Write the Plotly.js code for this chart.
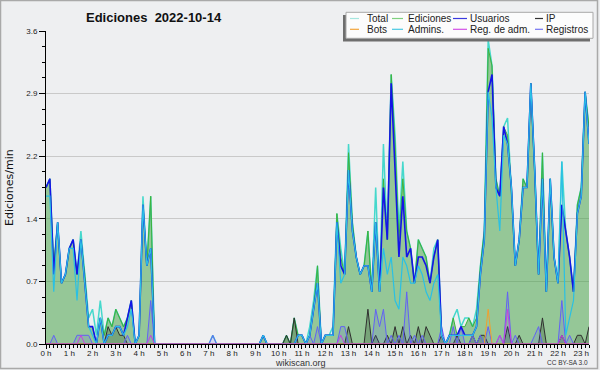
<!DOCTYPE html>
<html>
<head>
<meta charset="utf-8">
<script src="https://cdn.plot.ly/plotly-3.0.1.min.js"></script>
<style>
  html, body { margin: 0; padding: 0; background: #eeeff1; }
  #chart { width: 600px; height: 370px; }
</style>
</head>
<body>
<div id="chart"></div>
<script>
// 10-minute bins, 00:00 -> 23:20 (edits per minute)
const total = [
  1.8,1.9,0.9,1.4,0.7,0.8,1.1,1.2,0.8,1.3,
  0.8,0.3,0.4,0.1,0.5,0.1,0.3,0.2,0.4,0.3,
  0.2,0.3,0.5,0,0.1,1.7,0.9,1.7,0,0,
  0,0,0,0,0,0,0,0,0,0,
  0,0,0,0.1,0,0,0,0,0,0,
  0,0,0,0,0,0,0.1,0,0,0,
  0,0,0.1,0,0.3,0.1,0.1,0,0.2,0.5,
  0.9,0,0.1,0.1,0.2,1.5,1.1,0.8,2.3,1.4,
  1.0,0.8,0.9,1.3,0.6,1.8,0.6,2.3,1.2,3.1,
  2.4,1.3,2.1,1.3,1.1,0.7,1.2,1.1,1.0,0.7,
  1.1,1.2,0.1,0,0.1,0.3,0.4,0.2,0.3,0.3,
  0.2,0.4,0.9,1.3,3.5,3.2,1.9,1.7,2.5,2.6,
  1.8,0.9,1.2,1.9,1.8,3.0,2.0,0.8,2.2,0.6,
  1.9,1.0,0.7,2.1,1.3,1.0,0.6,1.6,1.8,2.9,
  2.5
];
const ediciones = [
  1.8,1.9,0.9,1.4,0.7,0.8,1.1,1.2,0.8,1.2,
  0.8,0.2,0.2,0,0.3,0.1,0.3,0.2,0.4,0.3,
  0.2,0.3,0.5,0,0.1,1.6,0.9,1.7,0,0,
  0,0,0,0,0,0,0,0,0,0,
  0,0,0,0,0,0,0,0,0,0,
  0,0,0,0,0,0,0.1,0,0,0,
  0,0,0.1,0,0.3,0.1,0.1,0,0.1,0.4,
  0.9,0,0.1,0.1,0.1,1.5,1.0,0.8,2.2,1.4,
  1.0,0.8,0.9,1.3,0.6,1.4,0.6,1.9,1.2,3.1,
  2.3,1.2,1.9,1.3,1.1,0.7,1.2,1.1,1.0,0.7,
  1.0,1.2,0.1,0,0.1,0.3,0.1,0.2,0.2,0.3,
  0.2,0.3,0.9,1.3,3.4,3.2,1.9,1.7,2.5,2.4,
  1.8,0.9,1.2,1.9,1.8,3.0,2.0,0.8,2.2,0.6,
  1.9,1.0,0.7,1.6,1.3,1.0,0.6,1.6,1.8,2.9,
  2.5
];
const usuarios = [
  1.8,1.9,0.8,1.4,0.7,0.8,1.1,1.2,0.8,1.2,
  0.7,0.2,0.2,0,0.3,0,0.1,0.1,0.2,0.2,
  0.1,0.3,0.5,0,0.1,1.6,0.9,1.1,0,0,
  0,0,0,0,0,0,0,0,0,0,
  0,0,0,0,0,0,0,0,0,0,
  0,0,0,0,0,0,0.1,0,0,0,
  0,0,0,0,0,0.1,0.1,0,0.1,0.4,
  0.7,0,0.1,0.1,0.1,1.4,0.9,0.8,2.0,1.3,
  1.0,0.8,0.9,0.9,0.6,1.4,0.6,1.8,1.2,3.0,
  2.0,1.0,1.7,1.0,1.1,0.7,1.0,1.0,0.9,0.7,
  1.0,1.2,0.1,0,0.1,0.1,0.1,0.2,0.1,0.1,
  0.1,0.2,0.8,1.2,2.9,3.1,1.8,1.7,2.5,2.3,
  1.8,0.9,1.2,1.8,1.8,3.0,2.0,0.8,1.9,0.6,
  1.9,1.0,0.7,1.6,1.3,1.0,0.6,1.5,1.7,2.9,
  2.3
];
const admins = [
  1.7,1.7,0.6,1.4,0.7,0.8,1.1,1.1,0.5,1.2,
  0.7,0.2,0.1,0,0.3,0,0.1,0.1,0.2,0.2,
  0.1,0.2,0.4,0,0.1,1.6,0.9,1.1,0,0,
  0,0,0,0,0,0,0,0,0,0,
  0,0,0,0,0,0,0,0,0,0,
  0,0,0,0,0,0,0.1,0,0,0,
  0,0,0,0,0,0.1,0.1,0,0.1,0.4,
  0.7,0,0.1,0.1,0.1,1.4,0.7,0.8,2.0,1.3,
  1.0,0.8,0.9,0.9,0.6,1.4,0.6,1.1,0.8,1.0,
  0.5,0.4,1.0,0.9,0.7,0.7,0.9,0.8,0.6,0.5,
  0.7,0.8,0.1,0,0.1,0.1,0.1,0.1,0.1,0.1,
  0.1,0.2,0.8,1.2,2.9,2.6,1.8,1.3,2.4,2.3,
  1.8,0.9,1.2,1.8,1.8,3.0,2.0,0.8,1.9,0.6,
  1.9,1.0,0.7,2.1,0.1,0.3,0.5,1.5,1.7,2.9,
  2.3
];
const ip = [
  0,0,0,0,0,0,0,0,0,0,
  0,0,0,0,0,0,0.2,0.1,0.2,0.1,
  0.1,0,0,0,0,0,0,0,0,0,
  0,0,0,0,0,0,0,0,0,0,
  0,0,0,0,0,0,0,0,0,0,
  0,0,0,0,0,0,0,0,0,0,
  0,0,0.1,0,0.3,0,0,0,0,0,
  0,0,0,0,0,0,0,0,0.2,0,
  0,0,0,0.4,0,0.1,0,0,0.1,0,
  0.2,0,0.2,0,0.1,0,0.2,0,0.2,0.1,
  0,0,0.1,0,0,0,0.1,0,0,0,
  0.1,0,0.1,0.1,0,0,0,0,0,0.2,
  0,0,0.1,0,0,0,0,0,0.3,0,
  0,0,0,0.1,0,0,0,0.1,0.1,0,
  0.2
];
const bots = [
  0,0,0,0,0,0,0,0,0,0,
  0,0,0,0,0,0,0,0,0,0,
  0,0,0,0,0,0,0,0,0,0,
  0,0,0,0,0,0,0,0,0,0,
  0,0,0,0,0,0,0,0,0,0,
  0,0,0,0,0,0,0,0,0,0,
  0,0,0,0,0,0,0,0,0,0,
  0,0,0,0,0,0,0,0,0,0,
  0,0,0,0,0,0,0,0,0,0,
  0,0,0,0,0,0,0,0,0,0,
  0,0,0,0,0,0,0,0,0,0,
  0,0,0,0,0.4,0,0,0,0,0,
  0,0,0,0,0,0,0,0,0,0,
  0,0,0,0,0,0,0,0,0,0,
  0
];
const regAdm = [
  0,0,0,0,0,0,0,0,0,0.1,
  0,0,0,0,0,0,0,0,0,0,
  0,0,0,0,0,0,0,0.1,0,0,
  0,0,0,0,0,0,0,0,0,0,
  0,0,0,0,0,0,0,0,0,0,
  0,0,0,0,0,0,0,0,0,0,
  0,0,0,0,0,0,0,0,0,0,
  0,0,0,0,0,0,0.1,0,0,0,
  0,0,0,0,0,0,0,0,0,0,
  0,0,0,0,0,0,0,0,0,0,
  0,0,0,0,0,0,0,0,0,0,
  0,0,0,0,0,0,0,0.1,0,0.4,
  0,0,0,0,0,0,0,0,0,0,
  0,0,0,0.1,0,0,0,0,0,0,
  0
];
const registros = [
  0,0,0.1,0,0,0,0,0,0.1,0.1,
  0.1,0.1,0,0,0,0,0,0,0,0,
  0,0.1,0,0,0,0,0,0.5,0,0,
  0,0,0,0,0,0,0,0,0,0,
  0,0,0,0.1,0,0,0,0,0,0,
  0,0,0,0,0,0,0,0,0,0,
  0,0,0,0,0,0,0,0,0.1,0,
  0.2,0,0,0,0,0,0.2,0.2,0,0,
  0,0,0,0,0,0.4,0.2,0.4,0,0.1,
  0,0.1,0,0.6,0,0.1,0,0.1,0,0,
  0,0,0.2,0,0,0.2,0,0.2,0,0,
  0.1,0,0.1,0,0.2,0,0,0.1,0,0.6,
  0,0.1,0,0,0,0,0.1,0.2,0,0,
  0,0,0,0.5,0,0.1,0,0,0,0,
  0
];
const yTickVals = [0, 0.72, 1.44, 2.16, 2.88, 3.6];
const yTickText = ['0.0', '0.7', '1.4', '2.2', '2.9', '3.6'];

const x = total.map((_, i) => i / 6); // hours

const C = {
  total: '#45d8cc', ed: '#3cb43c', us: '#1414e8', ip: '#303030',
  bots: '#f0a030', ad: '#2ac0e4', regAdm: '#c840e0', reg: '#6262f4'
};
const LG = {
  total: '#a6e6df', ed: '#7fd07f', us: '#3a3ae0', ip: '#333333',
  bots: '#f2a43a', ad: '#48c8e2', regAdm: '#d24ee6', reg: '#7272f2'
};

function ln(y, color, width, extra) {
  return Object.assign({ x: x, y: y, type: 'scatter', mode: 'lines',
    line: { color: color, width: width }, hoverinfo: 'skip', showlegend: false }, extra || {});
}

const traces = [
  ln(total, C.total, 1.5),
  ln(ediciones, C.ed, 1, { fill: 'tozeroy', fillcolor: 'rgba(60,160,62,0.5)' }),
  ln(ip, C.ip, 1, { fill: 'tozeroy', fillcolor: 'rgba(20,40,20,0.22)' }),
  ln(registros, C.reg, 1, { fill: 'tozeroy', fillcolor: 'rgba(80,80,255,0.14)' }),
  ln(usuarios, C.us, 1.6),
  ln(admins, C.ad, 1.2),
  ln(bots, C.bots, 1),
  ln(regAdm, C.regAdm, 1)
];

// plot area in page pixels
const L = 46, T = 31, W = 543, H = 313;
const px = v => (v - L) / W;
const py = v => (T + H - v) / H;

const shapes = [
  { type: 'rect', xref: 'paper', yref: 'paper', x0: px(0.5), x1: px(597.5), y0: py(0.5), y1: py(368.5),
    line: { color: '#a9a9a9', width: 1.5 }, layer: 'above' },
  { type: 'rect', xref: 'paper', yref: 'paper', x0: px(343), x1: px(590), y0: py(15), y1: py(41.5),
    fillcolor: '#6e6e6e', line: { width: 0 }, layer: 'above' },
  { type: 'rect', xref: 'paper', yref: 'paper', x0: px(346), x1: px(593), y0: py(12.3), y1: py(38.3),
    fillcolor: '#fcfcfc', line: { color: '#a8a8a8', width: 1 }, layer: 'above' }
];
const annotations = [];
const legendItems = [
  ['Total', LG.total, 350, 359, 365, 18.5], ['Ediciones', LG.ed, 392, 403, 406, 18.5],
  ['Usuarios', LG.us, 453, 467, 468, 18.5], ['IP', LG.ip, 535, 543, 544, 18.5],
  ['Bots', LG.bots, 350, 359, 365, 29.3], ['Admins.', LG.ad, 392, 403, 406, 29.3],
  ['Reg. de adm.', LG.regAdm, 453, 467, 468, 29.3], ['Registros', LG.reg, 535, 543, 544, 29.3]
];
legendItems.forEach(([name, col, x0, x1, tx, ty]) => {
  shapes.push({ type: 'line', xref: 'paper', yref: 'paper', x0: px(x0), x1: px(x1), y0: py(ty), y1: py(ty),
    line: { color: col, width: 1.2 }, layer: 'above' });
  annotations.push({ xref: 'paper', yref: 'paper', x: px(tx), y: py(ty), xanchor: 'left', yanchor: 'middle',
    text: name, showarrow: false, font: { family: 'Liberation Sans, Arial', size: 10, color: '#222' } });
});
annotations.push(
  { xref: 'paper', yref: 'paper', x: px(154), y: py(17), xanchor: 'center', yanchor: 'middle', showarrow: false,
    text: '<b>Ediciones\u00a0 2022-10-14</b>', font: { family: 'Liberation Sans, Arial', size: 13, color: '#111' } },
  { xref: 'paper', yref: 'paper', x: px(9), y: py(188), xanchor: 'center', yanchor: 'middle', showarrow: false,
    textangle: -90, text: 'Ediciones/min', font: { family: 'DejaVu Sans', size: 11, color: '#111' } },
  { xref: 'paper', yref: 'paper', x: px(300), y: py(362.5), xanchor: 'center', yanchor: 'middle', showarrow: false,
    text: 'wikiscan.org', font: { family: 'Liberation Sans, Arial', size: 9, color: '#333' } },
  { xref: 'paper', yref: 'paper', x: px(590), y: py(362.5), xanchor: 'right', yanchor: 'middle', showarrow: false,
    text: 'CC BY-SA 3.0', font: { family: 'Liberation Sans, Arial', size: 6.5, color: '#333' } }
);

const layout = {
  width: 600, height: 370,
  margin: { l: L, r: 600 - L - W, t: T, b: 370 - T - H, pad: 0 },
  paper_bgcolor: '#eeeff1', plot_bgcolor: '#eeeff1',
  showlegend: false,
  xaxis: {
    range: [0, 140 / 6], tickmode: 'linear', tick0: 0, dtick: 1, ticksuffix: ' h',
    ticks: 'outside', ticklen: 4, tickcolor: '#000', tickwidth: 1, ticklabelstandoff: -3,
    showline: true, linecolor: '#000', linewidth: 1, showgrid: false, zeroline: false,
    tickfont: { family: 'Liberation Sans, Arial', size: 8, color: '#222' },
    minor: { tickmode: 'linear', tick0: 0, dtick: 1 / 6, ticks: 'outside', ticklen: 3, tickcolor: '#000', showgrid: false },
    fixedrange: true
  },
  yaxis: {
    range: [0, 3.6], tickmode: 'array', tickvals: yTickVals, ticktext: yTickText,
    ticks: 'outside', ticklen: 6, tickcolor: '#000', tickwidth: 1,
    showline: true, linecolor: '#000', linewidth: 1,
    showgrid: true, gridcolor: '#c9c9c9', gridwidth: 1, zeroline: false,
    tickfont: { family: 'Liberation Sans, Arial', size: 8, color: '#222' },
    minor: { tickmode: 'linear', tick0: 0, dtick: 0.18, ticks: 'outside', ticklen: 3, tickcolor: '#000', showgrid: false },
    fixedrange: true
  },
  shapes: shapes,
  annotations: annotations
};

Plotly.newPlot('chart', traces, layout, { displayModeBar: false, staticPlot: true });
</script>
</body>
</html>
